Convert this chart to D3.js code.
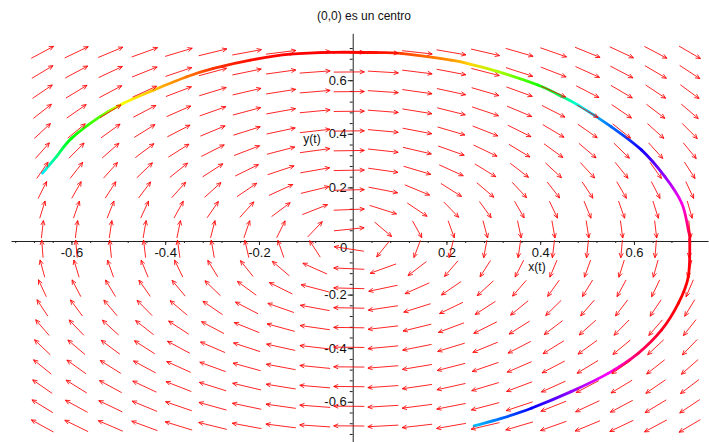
<!DOCTYPE html>
<html>
<head>
<meta charset="utf-8">
<script src="https://cdn.jsdelivr.net/npm/d3@7/dist/d3.min.js"></script>
<style>
  body { margin: 0; background: #fff; }
  text { font-family: "Liberation Sans", Arial, sans-serif; fill: #111; }
</style>
</head>
<body>
<script>
const width = 709;
const height = 442;

// solution curve (t increasing), with its line hue
const curveX = [-0.662, -0.632, -0.600, -0.539, -0.489, -0.425, -0.354, -0.297, -0.218, -0.133, -0.040,
    0.050, 0.103, 0.210, 0.250, 0.310, 0.395, 0.440, 0.481, 0.552, 0.616, 0.666, 0.702, 0.716,
    0.719, 0.716, 0.695, 0.659, 0.609, 0.545, 0.466, 0.381, 0.317, 0.259];
const curveY = [0.253, 0.315, 0.383, 0.464, 0.514, 0.563, 0.613, 0.644, 0.675, 0.697, 0.704,
    0.703, 0.700, 0.675, 0.660, 0.632, 0.582, 0.545, 0.507, 0.426, 0.340, 0.240, 0.141, 0.041,
    0.004, -0.133, -0.232, -0.332, -0.419, -0.494, -0.562, -0.624, -0.662, -0.690];
const curveHue = [185, 150, 120, 100, 62, 45, 28, 12, 3, 0, 0,
    5, 15, 35, 50, 80, 115, 140, 175, 215, 245, 275, 305, 335,
    350, 360, 360, 352, 338, 300, 275, 240, 215, 195];

// linear system  x' = a x + b y,  y' = c x + d y
const system = [[0, 1], [-1, 0]];
const dirgrid = [20, 20];

const xTicks = [-0.6, -0.4, -0.2, 0.2, 0.4, 0.6];
const yTicks = [-0.6, -0.4, -0.2, 0.2, 0.4, 0.6];
const minorTicks = d3.range(-0.72, 0.76, 0.04);

const svg = d3.select("body").append("svg")
    .attr("width", width)
    .attr("height", height);

const x = d3.scaleLinear().domain([-0.729, 0.758]).range([11, 708]);
const y = d3.scaleLinear().domain([-0.75, 0.775]).range([442, 33.3]);

const fmt = d => d3.format(".1f")(d).replace("\u2212", "-");

// title
svg.append("text")
    .attr("x", 364).attr("y", 20)
    .attr("text-anchor", "middle")
    .style("font-size", "12px")
    .text("(0,0) es un centro");

// axes
const xAxis = svg.append("g")
    .attr("transform", "translate(0," + y(0) + ")")
    .call(d3.axisBottom(x).tickValues(xTicks).tickSize(4).tickSizeOuter(0).tickFormat(fmt));
xAxis.append("g")
    .call(d3.axisBottom(x).tickValues(minorTicks).tickSize(2).tickFormat(""))
    .select(".domain").remove();

const yAxis = svg.append("g")
    .attr("transform", "translate(" + x(0) + ",0)")
    .call(d3.axisLeft(y).tickValues(yTicks).tickSize(5).tickSizeOuter(0).tickPadding(1).tickFormat(fmt));
yAxis.append("g")
    .call(d3.axisLeft(y).tickValues(minorTicks.filter(v => v < 0.77)).tickSize(3).tickFormat(""))
    .select(".domain").remove();

svg.selectAll(".domain").attr("stroke", "#222");
svg.selectAll(".tick line").attr("stroke", "#222");
svg.selectAll(".tick text")
    .style("font-size", "13px")
    .style("font-family", "Liberation Sans, Arial, sans-serif")
    .attr("fill", "#222");
xAxis.selectAll(".tick text").attr("y", 16).attr("dy", 0);

svg.append("text")
    .attr("x", x(0) - 9).attr("y", y(0) + 11)
    .attr("text-anchor", "middle")
    .style("font-size", "13px")
    .text("0");

svg.append("text")
    .attr("x", 537).attr("y", 271)
    .attr("text-anchor", "middle")
    .style("font-size", "12px")
    .text("x(t)");

svg.append("text")
    .attr("x", 312).attr("y", 143)
    .attr("text-anchor", "middle")
    .style("font-size", "12px")
    .text("y(t)");

// solution curve: smooth pieces, each with its own hue gradient
const defs = svg.append("defs");
const pts = curveX.map((d, i) => ({ px: x(d), py: y(curveY[i]), h: curveHue[i] }));
const segs = d3.range(pts.length - 1).map(function (i) {
    const p0 = pts[Math.max(i - 1, 0)], p1 = pts[i], p2 = pts[i + 1], p3 = pts[Math.min(i + 2, pts.length - 1)];
    return {
        a: p1, b: p2,
        d: "M" + p1.px + "," + p1.py +
            "C" + (p1.px + (p2.px - p0.px) / 6) + "," + (p1.py + (p2.py - p0.py) / 6) +
            " " + (p2.px - (p3.px - p1.px) / 6) + "," + (p2.py - (p3.py - p1.py) / 6) +
            " " + p2.px + "," + p2.py
    };
});

segs.forEach(function (s, i) {
    const g = defs.append("linearGradient")
        .attr("id", "seg" + i)
        .attr("gradientUnits", "userSpaceOnUse")
        .attr("x1", s.a.px).attr("y1", s.a.py)
        .attr("x2", s.b.px).attr("y2", s.b.py);
    g.append("stop").attr("offset", 0).attr("stop-color", d3.hsl(s.a.h, 1, 0.5));
    g.append("stop").attr("offset", 1).attr("stop-color", d3.hsl(s.b.h, 1, 0.5));
});

svg.append("g")
    .selectAll("path")
    .data(segs)
    .enter().append("path")
    .attr("d", d => d.d)
    .attr("fill", "none")
    .attr("stroke", (d, i) => "url(#seg" + i + ")")
    .attr("stroke-width", 2.8)
    .attr("stroke-linecap", "round");

// direction field over the curve's extent
const gx = d3.extent(curveX);
const gy = d3.extent(curveY);
const stepX = (gx[1] - gx[0]) / (dirgrid[0] - 1);
const stepY = (gy[1] - gy[0]) / (dirgrid[1] - 1);
const arrowLen = 0.9 * Math.min(stepX, stepY);

const arrows = [];
for (let i = 0; i < dirgrid[0]; i++) {
    for (let j = 0; j < dirgrid[1]; j++) {
        const px = gx[0] + i * stepX;
        const py = gy[0] + j * stepY;
        const f = system[0][0] * px + system[0][1] * py;
        const g = system[1][0] * px + system[1][1] * py;
        const m = Math.hypot(f, g) || 1;
        const ux = f / m * arrowLen / 2;
        const uy = g / m * arrowLen / 2;
        arrows.push({ x0: x(px - ux), y0: y(py - uy), x1: x(px + ux), y1: y(py + uy) });
    }
}

function arrowPath(d) {
    const a = Math.atan2(d.y1 - d.y0, d.x1 - d.x0);
    const hl = 5, ha = 0.42;
    const b1x = d.x1 - hl * Math.cos(a - ha), b1y = d.y1 - hl * Math.sin(a - ha);
    const b2x = d.x1 - hl * Math.cos(a + ha), b2y = d.y1 - hl * Math.sin(a + ha);
    return "M" + d.x0 + "," + d.y0 + "L" + d.x1 + "," + d.y1 +
        "M" + b1x + "," + b1y + "L" + d.x1 + "," + d.y1 + "L" + b2x + "," + b2y;
}

svg.append("g")
    .selectAll("path")
    .data(arrows)
    .enter().append("path")
    .attr("d", arrowPath)
    .attr("fill", "none")
    .attr("stroke", "#ff0000")
    .attr("stroke-opacity", 0.85)
    .attr("stroke-width", 1);
</script>
</body>
</html>
